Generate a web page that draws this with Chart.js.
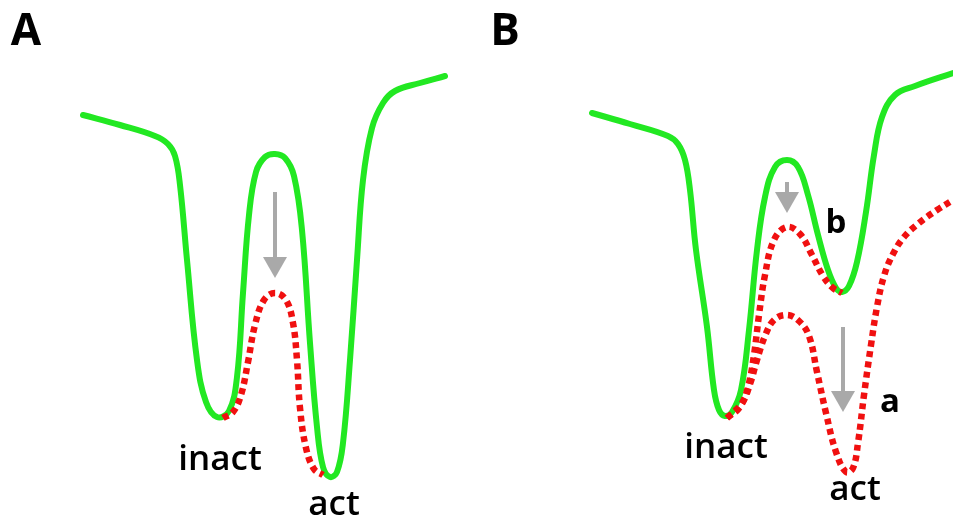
<!DOCTYPE html>
<html>
<head>
<meta charset="utf-8">
<script src="https://cdn.jsdelivr.net/npm/chart.js@4"></script>
<style>
  body { margin: 0; background: #fff; }
  #wrap { width: 953px; height: 518px; position: relative; }
</style>
</head>
<body>
<div id="wrap"><canvas id="landscape"></canvas></div>
<script>
// energy landscape curves: [reaction coordinate, energy depth]
const greenA = [[83,115],[120,125],[155,136],[168,144],[175,156],[180,185],[187,260],[197,360],[206,402],[217,417],[229,411],[237,377],[243,293],[249,215],[256,172],[265,157],[275,154],[285,158],[294,176],[302,230],[310,343],[317,427],[323,467],[330,477],[337,472],[343,443],[350,360],[357,260],[363,180],[372,128],[383,103],[395,91],[420,83],[445,76]];
const redA = [[223,418],[233,412],[241,395],[248,362],[255,325],[264,300],[275,293],[286,300],[293,323],[297,360],[300,408],[306,448],[314,469],[323,475]];

const greenB = [[592,113],[630,124],[668,136],[678,144],[685,160],[690,190],[696,250],[707,327],[714,390],[719,410],[725,416],[732,412],[741,390],[749,330],[757,250],[765,197],[775,167],[787,160],[798,167],[808,195],[818,235],[828,270],[836,288],[842,292],[849,286],[857,262],[866,212],[874,155],[882,117],[895,95],[915,86],[953,73]];
const redBupper = [[727,418],[740,407],[748,387],[754,355],[759,315],[765,275],[774,240],[787,227],[800,234],[812,255],[823,276],[833,288],[842,293]];
const redBlower = [[727,418],[742,403],[750,384],[757,360],[765,336],[774,320],[787,315],[799,321],[809,336],[817,372],[826,413],[836,452],[846,472],[853,468],[858,443],[864,395],[871,345],[877,307],[884,276],[893,254],[904,237],[919,223],[937,210],[953,200]];

// arrows: [x, from, to]
const arrows = [[275,192,278],[787,182,213],[843,327,412]];

// labels: [text, x, baseline, size]
const labels = [
  ["A", 26, 45, 44],
  ["B", 505, 45, 44],
  ["inact", 220, 470, 35],
  ["act", 334, 515, 35],
  ["inact", 726, 458, 35],
  ["act", 855, 500, 35],
  ["b", 836, 233, 33],
  ["a", 890, 412, 33]
];

function toPts(arr) {
  return arr.map(p => ({ x: p[0], y: p[1] }));
}

const green = "#22e822";
const red = "#f01010";

function greenSet(arr) {
  return { data: toPts(arr), borderColor: green, borderWidth: 6, pointRadius: 0,
    tension: 0.4, clip: false, borderCapStyle: "round", order: 2 };
}
function redSet(arr) {
  return { data: toPts(arr), borderColor: red, borderWidth: 6.5, borderDash: [6, 4.5], pointRadius: 0,
    tension: 0.4, clip: false, order: 1 };
}

const extras = {
  id: "extras",
  afterDatasetsDraw(chart) {
    const ctx = chart.ctx;
    const xs = chart.scales.x, ys = chart.scales.y;
    ctx.save();
    // gray arrows
    ctx.fillStyle = "#a9a9a9";
    ctx.strokeStyle = "#a9a9a9";
    arrows.forEach(a => {
      const x = xs.getPixelForValue(a[0]);
      const y0 = ys.getPixelForValue(a[1]);
      const y1 = ys.getPixelForValue(a[2]);
      const head = 21;
      ctx.lineWidth = 4;
      ctx.beginPath();
      ctx.moveTo(x, y0);
      ctx.lineTo(x, y1 - head + 1);
      ctx.stroke();
      ctx.beginPath();
      ctx.moveTo(x - 12, y1 - head);
      ctx.lineTo(x + 12, y1 - head);
      ctx.lineTo(x, y1);
      ctx.closePath();
      ctx.fill();
    });
    // text
    ctx.fillStyle = "#000";
    ctx.textAlign = "center";
    ctx.textBaseline = "alphabetic";
    labels.forEach(l => {
      const bold = l[0] === "A" || l[0] === "B" || l[0].length === 1 ? "700" : "600";
      ctx.font = bold + " " + l[3] + "px 'Open Sans'";
      ctx.fillText(l[0], xs.getPixelForValue(l[1]), ys.getPixelForValue(l[2]));
    });
    ctx.restore();
  }
};

new Chart(document.getElementById("landscape"), {
  type: "line",
  data: {
    datasets: [
      greenSet(greenA), redSet(redA),
      greenSet(greenB), redSet(redBupper), redSet(redBlower)
    ]
  },
  options: {
    responsive: true,
    maintainAspectRatio: false,
    animation: false,
    layout: { padding: 0 },
    plugins: { legend: { display: false }, tooltip: { enabled: false } },
    scales: {
      x: { type: "linear", min: 0, max: 953, display: false },
      y: { type: "linear", min: 0, max: 518, reverse: true, display: false }
    }
  },
  plugins: [extras]
});
</script>
</body>
</html>
